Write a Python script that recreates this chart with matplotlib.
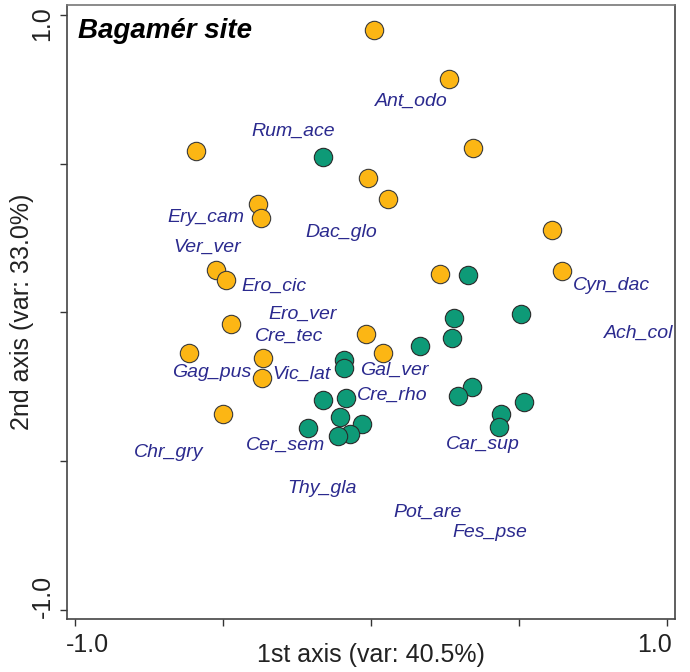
import matplotlib
matplotlib.use("Agg")
import matplotlib.pyplot as plt
from matplotlib.transforms import ScaledTranslation

plt.rcParams['font.family'] = ['Liberation Sans', 'DejaVu Sans']

# Orange group (sites)
orange_x = [0.010, 0.264, -0.591, 0.345, -0.010, 0.057, -0.382, -0.372, 0.611, -0.524,
            -0.490, 0.233, 0.645, -0.473, -0.017, -0.615, 0.041, -0.365, -0.368, -0.500]
orange_y = [0.950, 0.785, 0.543, 0.553, 0.452, 0.382, 0.365, 0.318, 0.277, 0.143,
            0.109, 0.129, 0.139, -0.039, -0.072, -0.136, -0.136, -0.153, -0.220, -0.341]

# Green group (sites)
green_x = [-0.162, 0.328, 0.507, 0.280, 0.274, 0.166, -0.091, -0.091, 0.341, 0.294,
           -0.162, -0.084, 0.517, 0.439, -0.105, -0.030, 0.432, -0.213, -0.071, -0.111]
green_y = [0.523, 0.126, -0.005, -0.018, -0.086, -0.113, -0.160, -0.187, -0.250, -0.281,
           -0.294, -0.287, -0.301, -0.341, -0.351, -0.375, -0.385, -0.388, -0.408, -0.415]

# Species labels
species = ["Ant_odo", "Rum_ace", "Ery_cam", "Dac_glo", "Ver_ver", "Ero_cic", "Cyn_dac",
           "Ero_ver", "Cre_tec", "Ach_col", "Gag_pus", "Vic_lat", "Gal_ver", "Cre_rho",
           "Chr_gry", "Cer_sem", "Car_sup", "Thy_gla", "Pot_are", "Fes_pse"]
species_x = [0.138, -0.262, -0.558, -0.101, -0.554, -0.326, 0.814, -0.230, -0.277, 0.905,
             -0.539, -0.233, 0.078, 0.071, -0.682, -0.287, 0.378, -0.166, 0.193, 0.402]
species_y = [0.711, 0.607, 0.318, 0.268, 0.218, 0.089, 0.092, -0.008, -0.079, -0.069,
             -0.203, -0.207, -0.196, -0.277, -0.472, -0.445, -0.445, -0.593, -0.671, -0.741]

title = "Bagamér site"
xlabel = "1st axis (var: 40.5%)"
ylabel = "2nd axis (var: 33.0%)"
ticks = [-1.0, -0.5, 0.0, 0.5, 1.0]
ticklabels = ["-1.0", "", "", "", "1.0"]

fig = plt.figure(figsize=(6.9, 6.72), dpi=100)
ax = fig.add_axes([0.097, 0.079, 0.881, 0.914])

ax.scatter(orange_x, orange_y, s=175, c="#FCB614", edgecolors="#3a3a3a", linewidths=0.8, zorder=3)
ax.scatter(green_x, green_y, s=175, c="#0E9A77", edgecolors="#2a2a2a", linewidths=0.8, zorder=3)

for name, x, y in zip(species, species_x, species_y):
    ax.text(x, y, name, ha="center", va="center", style="italic", fontsize=14,
            color="#2B2A8E", zorder=4)

ax.text(0.018, 0.958, title, transform=ax.transAxes, ha="left", va="center",
        fontsize=20, fontweight="bold", style="italic", color="black")

ax.set_xlim(-1.027, 1.027)
ax.set_ylim(-1.03, 1.034)
ax.set_xticks(ticks)
ax.set_xticklabels(ticklabels)
ax.set_yticks(ticks)
ax.set_yticklabels(ticklabels, rotation=90, va="center")
ax.tick_params(direction="out", length=5, width=1, colors="#333333", labelsize=18,
               labelcolor="#222222")
ax.tick_params(axis="x", pad=5)
ax.tick_params(axis="y", pad=4)

for sp in ax.spines.values():
    sp.set_color("#444444")
    sp.set_linewidth(1.2)
ax.spines["top"].set_color("#777777")

ax.set_xlabel(xlabel, fontsize=18, color="#222222")
ax.set_ylabel(ylabel, fontsize=18, color="#222222")
ax.xaxis.set_label_coords(0.5, -0.039)
ax.yaxis.set_label_coords(-0.054, 0.5)

# shift end tick labels inward as in the reference
xl = ax.get_xticklabels()
xl[0].set_transform(xl[0].get_transform() + ScaledTranslation(0.13, 0, fig.dpi_scale_trans))
xl[-1].set_transform(xl[-1].get_transform() + ScaledTranslation(-0.12, 0, fig.dpi_scale_trans))
yl = ax.get_yticklabels()
yl[0].set_transform(yl[0].get_transform() + ScaledTranslation(0, 0.14, fig.dpi_scale_trans))
yl[-1].set_transform(yl[-1].get_transform() + ScaledTranslation(0, -0.09, fig.dpi_scale_trans))

fig.savefig("out.png", dpi=100)
